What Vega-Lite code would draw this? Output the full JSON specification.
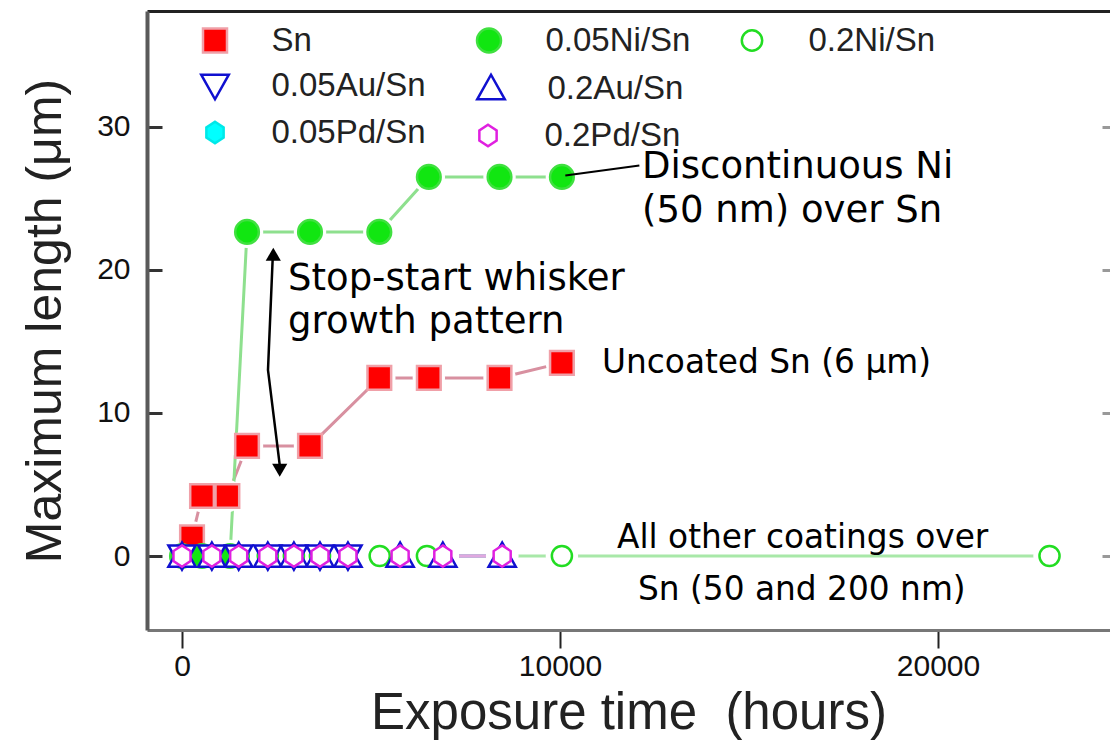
{
  "$schema": "https://vega.github.io/schema/vega-lite/v6.json",
  "width": 963,
  "height": 619,
  "autosize": {"type": "none"},
  "padding": {"left": 147, "top": 11, "right": 0, "bottom": 111},
  "background": "white",
  "config": {"view": {"stroke": null}},
  "datasets": {
    "pts": [
      {"series": "Sn", "t": 265, "len": 1.3},
      {"series": "Sn", "t": 530, "len": 4.2},
      {"series": "Sn", "t": 1200, "len": 4.2},
      {"series": "Sn", "t": 1720, "len": 7.7},
      {"series": "Sn", "t": 3386, "len": 7.7},
      {"series": "Sn", "t": 5220, "len": 12.45},
      {"series": "Sn", "t": 6530, "len": 12.45},
      {"series": "Sn", "t": 8400, "len": 12.45},
      {"series": "Sn", "t": 10050, "len": 13.5},
      {"series": "0.05Ni/Sn", "t": 0, "len": 0},
      {"series": "0.05Ni/Sn", "t": 530, "len": 0},
      {"series": "0.05Ni/Sn", "t": 1270, "len": 0},
      {"series": "0.05Ni/Sn", "t": 1720, "len": 22.66},
      {"series": "0.05Ni/Sn", "t": 3386, "len": 22.66},
      {"series": "0.05Ni/Sn", "t": 5220, "len": 22.66},
      {"series": "0.05Ni/Sn", "t": 6530, "len": 26.5},
      {"series": "0.05Ni/Sn", "t": 8400, "len": 26.5},
      {"series": "0.05Ni/Sn", "t": 10050, "len": 26.5},
      {"series": "0.2Ni/Sn", "t": 0, "len": 0},
      {"series": "0.2Ni/Sn", "t": 790, "len": 0},
      {"series": "0.2Ni/Sn", "t": 1500, "len": 0},
      {"series": "0.2Ni/Sn", "t": 2270, "len": 0},
      {"series": "0.2Ni/Sn", "t": 2960, "len": 0},
      {"series": "0.2Ni/Sn", "t": 3650, "len": 0},
      {"series": "0.2Ni/Sn", "t": 5230, "len": 0},
      {"series": "0.2Ni/Sn", "t": 6480, "len": 0},
      {"series": "0.2Ni/Sn", "t": 10050, "len": 0},
      {"series": "0.2Ni/Sn", "t": 22950, "len": 0},
      {"series": "0.05Pd/Sn", "t": 0, "len": 0},
      {"series": "0.05Pd/Sn", "t": 790, "len": 0},
      {"series": "0.05Pd/Sn", "t": 1500, "len": 0},
      {"series": "0.05Pd/Sn", "t": 2270, "len": 0},
      {"series": "0.05Pd/Sn", "t": 2960, "len": 0},
      {"series": "0.05Pd/Sn", "t": 3650, "len": 0},
      {"series": "0.05Pd/Sn", "t": 4390, "len": 0},
      {"series": "0.05Au/Sn", "t": 0, "len": 0},
      {"series": "0.05Au/Sn", "t": 790, "len": 0},
      {"series": "0.05Au/Sn", "t": 1500, "len": 0},
      {"series": "0.05Au/Sn", "t": 2270, "len": 0},
      {"series": "0.05Au/Sn", "t": 2960, "len": 0},
      {"series": "0.05Au/Sn", "t": 3650, "len": 0},
      {"series": "0.05Au/Sn", "t": 4390, "len": 0},
      {"series": "0.2Au/Sn", "t": 0, "len": 0},
      {"series": "0.2Au/Sn", "t": 790, "len": 0},
      {"series": "0.2Au/Sn", "t": 1500, "len": 0},
      {"series": "0.2Au/Sn", "t": 2270, "len": 0},
      {"series": "0.2Au/Sn", "t": 2960, "len": 0},
      {"series": "0.2Au/Sn", "t": 3650, "len": 0},
      {"series": "0.2Au/Sn", "t": 4390, "len": 0},
      {"series": "0.2Au/Sn", "t": 5770, "len": 0},
      {"series": "0.2Au/Sn", "t": 6900, "len": 0},
      {"series": "0.2Au/Sn", "t": 8470, "len": 0},
      {"series": "0.2Pd/Sn", "t": 0, "len": 0},
      {"series": "0.2Pd/Sn", "t": 790, "len": 0},
      {"series": "0.2Pd/Sn", "t": 1500, "len": 0},
      {"series": "0.2Pd/Sn", "t": 2270, "len": 0},
      {"series": "0.2Pd/Sn", "t": 2960, "len": 0},
      {"series": "0.2Pd/Sn", "t": 3650, "len": 0},
      {"series": "0.2Pd/Sn", "t": 4390, "len": 0},
      {"series": "0.2Pd/Sn", "t": 5770, "len": 0},
      {"series": "0.2Pd/Sn", "t": 6900, "len": 0},
      {"series": "0.2Pd/Sn", "t": 8470, "len": 0}
    ],
    "notes": [
      {"note": "Discontinuous Ni", "t": 12169, "len": 26.43},
      {"note": "(50 nm) over Sn", "t": 12169, "len": 23.36},
      {"note": "Stop-start whisker", "t": 2804, "len": 18.6},
      {"note": "growth pattern", "t": 2804, "len": 15.59},
      {"note": "Uncoated Sn (6 μm)", "t": 11111, "len": 12.8},
      {"note": "All other coatings over", "t": 11508, "len": 0.56},
      {"note": "Sn (50 and 200 nm)", "t": 12063, "len": -3.08}
    ],
    "leader": [
      {"t": 10140, "len": 26.6, "t2": 12100, "len2": 27.3}
    ],
    "arrow": [
      {"t": 2407, "len": 21.3, "k": 0},
      {"t": 2275, "len": 13.0, "k": 1},
      {"t": 2593, "len": 6.2, "k": 2}
    ],
    "heads": [
      {"dir": "up", "t": 2415, "len": 21.1},
      {"dir": "down", "t": 2585, "len": 6.0}
    ]
  },
  "resolve": {"axis": {"x": "independent", "y": "independent"}},
  "layer": [
    {
      "data": {"name": "pts"},
      "mark": {"type": "line", "strokeWidth": 3},
      "encoding": {
        "x": {"field": "t", "type": "quantitative",
          "scale": {"domain": [-926, 24550], "nice": false, "zero": false},
          "axis": {"orient": "bottom", "values": [0, 10000, 20000], "format": "d", "title": "Exposure time\u00a0\u00a0(hours)", "grid": false,
            "domainColor": "#777", "domainWidth": 3, "tickColor": "#222", "tickWidth": 2, "tickSize": 18,
            "labelFont": "Liberation Sans", "labelFontSize": 30, "labelColor": "#111", "labelPadding": 3,
            "titleFont": "Liberation Sans", "titleFontSize": 51, "titleFontWeight": "normal", "titleColor": "#222", "titlePadding": 7}},
        "y": {"field": "len", "type": "quantitative",
          "scale": {"domain": [-5.17, 38.1], "nice": false, "zero": false},
          "axis": {"orient": "left", "values": [0, 10, 20, 30], "title": "Maximum length (μm)", "grid": false,
            "domainColor": "#5a5a5a", "domainWidth": 4, "tickColor": "#333", "tickWidth": 3, "tickSize": -15,
            "labelFont": "Liberation Sans", "labelFontSize": 30, "labelColor": "#111", "labelPadding": 32,
            "titleFont": "Liberation Sans", "titleFontSize": 50, "titleFontWeight": "normal", "titleColor": "#222", "titlePadding": 26}},
        "color": {"field": "series", "type": "nominal",
          "scale": {"domain": ["blank", "Sn", "0.05Ni/Sn", "0.2Ni/Sn", "0.05Au/Sn", "0.2Au/Sn", "0.05Pd/Sn", "0.2Pd/Sn"],
            "range": ["#ffffff", "#d890a0", "#8ee08e", "#a8e8a8", "#8888d8", "#8888d8", "#90f0f0", "#e0a8e0"]},
          "legend": null}
      }
    },
    {
      "data": {"name": "pts"},
      "mark": {"type": "point", "shape": "circle", "filled": true, "fill": "white", "size": 1050, "opacity": 1, "strokeWidth": 0},
      "encoding": {
        "x": {"field": "t", "type": "quantitative", "axis": null},
        "y": {"field": "len", "type": "quantitative", "axis": null}
      }
    },
    {
      "data": {"name": "pts"},
      "mark": {"type": "point", "size": 560, "strokeWidth": 2.5, "opacity": 1},
      "encoding": {
        "x": {"field": "t", "type": "quantitative", "axis": null},
        "y": {"field": "len", "type": "quantitative", "axis": null},
        "fill": {"field": "series", "type": "nominal",
          "scale": {"domain": ["Sn", "0.05Ni/Sn", "0.2Ni/Sn", "0.05Au/Sn", "0.2Au/Sn", "blank", "0.05Pd/Sn", "0.2Pd/Sn"],
            "range": ["#ff0000", "#11e611", "#ffffff", "#ffffff", "#ffffff", "transparent", "#00ffff", "#ffffff"]},
          "legend": {"orient": "none", "legendX": 51.5, "legendY": 13, "padding": 0, "columns": 3, "direction": "horizontal", "gridAlign": "none",
            "columnPadding": 45, "rowPadding": 11, "symbolSize": 576, "symbolOffset": 0, "labelOffset": 40, "symbolStrokeWidth": 2.5, "symbolOpacity": 1,
            "labelFont": "Liberation Sans", "labelFontSize": 33, "labelColor": "#222", "title": null,
            "labelExpr": "datum.label === 'blank' ? '' : datum.label"}},
        "stroke": {"field": "series", "type": "nominal",
          "scale": {"domain": ["Sn", "0.05Ni/Sn", "0.2Ni/Sn", "0.05Au/Sn", "0.2Au/Sn", "blank", "0.05Pd/Sn", "0.2Pd/Sn"],
            "range": ["#f0a0a8", "#40e040", "#22dd22", "#1010d0", "#1010d0", "transparent", "#00e8e8", "#e020e0"]},
          "legend": {"orient": "none", "legendX": 51.5, "legendY": 13, "padding": 0, "columns": 3, "direction": "horizontal", "gridAlign": "none",
            "columnPadding": 45, "rowPadding": 11, "symbolSize": 576, "symbolOffset": 0, "labelOffset": 40, "symbolStrokeWidth": 2.5, "symbolOpacity": 1,
            "labelFont": "Liberation Sans", "labelFontSize": 33, "labelColor": "#222", "title": null,
            "labelExpr": "datum.label === 'blank' ? '' : datum.label"}},
        "shape": {"field": "series", "type": "nominal",
          "scale": {"domain": ["Sn", "0.05Ni/Sn", "0.2Ni/Sn", "0.05Au/Sn", "0.2Au/Sn", "blank", "0.05Pd/Sn", "0.2Pd/Sn"],
            "range": ["M-1,-1H1V1H-1Z", "M1,0A1,1 0 1,1 -1,0A1,1 0 1,1 1,0Z", "M0.85,0A0.85,0.85 0 1,1 -0.85,0A0.85,0.85 0 1,1 0.85,0Z", "M-1.15,-0.9L1.15,-0.9L0,1.15Z", "M-1.15,0.9L1.15,0.9L0,-1.15Z", "M0,0", "M0,-0.9L0.72,-0.42L0.72,0.42L0,0.9L-0.72,0.42L-0.72,-0.42Z", "M0,-0.9L0.72,-0.42L0.72,0.42L0,0.9L-0.72,0.42L-0.72,-0.42Z"]},
          "legend": {"orient": "none", "legendX": 51.5, "legendY": 13, "padding": 0, "columns": 3, "direction": "horizontal", "gridAlign": "none",
            "columnPadding": 45, "rowPadding": 11, "symbolSize": 576, "symbolOffset": 0, "labelOffset": 40, "symbolStrokeWidth": 2.5, "symbolOpacity": 1,
            "labelFont": "Liberation Sans", "labelFontSize": 33, "labelColor": "#222", "title": null,
            "labelExpr": "datum.label === 'blank' ? '' : datum.label"}}
      }
    },
    {
      "data": {"name": "notes"},
      "transform": [{"filter": "indexof(['Discontinuous Ni', '(50 nm) over Sn', 'Stop-start whisker', 'growth pattern'], datum.note) >= 0"}],
      "mark": {"type": "text", "font": "DejaVu Sans", "fontSize": 37, "align": "left", "baseline": "alphabetic", "color": "#000"},
      "encoding": {
        "x": {"field": "t", "type": "quantitative",
          "axis": {"orient": "top", "ticks": false, "labels": false, "title": null, "grid": false, "domainColor": "#222", "domainWidth": 3}},
        "y": {"field": "len", "type": "quantitative",
          "axis": {"orient": "right", "values": [0, 10, 20, 30], "labels": false, "domain": false, "title": null, "grid": false, "tickSize": -8, "tickColor": "#999", "tickWidth": 3}},
        "text": {"field": "note"}
      }
    },
    {
      "data": {"name": "notes"},
      "transform": [{"filter": "indexof(['Discontinuous Ni', '(50 nm) over Sn', 'Stop-start whisker', 'growth pattern'], datum.note) < 0"}],
      "mark": {"type": "text", "font": "DejaVu Sans", "fontSize": 32.8, "align": "left", "baseline": "alphabetic", "color": "#000"},
      "encoding": {
        "x": {"field": "t", "type": "quantitative", "axis": null},
        "y": {"field": "len", "type": "quantitative", "axis": null},
        "text": {"field": "note"}
      }
    },
    {
      "data": {"name": "leader"},
      "mark": {"type": "rule", "color": "#000", "strokeWidth": 2},
      "encoding": {
        "x": {"field": "t", "type": "quantitative", "axis": null},
        "y": {"field": "len", "type": "quantitative", "axis": null},
        "x2": {"field": "t2"},
        "y2": {"field": "len2"}
      }
    },
    {
      "data": {"name": "arrow"},
      "mark": {"type": "line", "color": "#000", "strokeWidth": 2.5},
      "encoding": {
        "x": {"field": "t", "type": "quantitative", "axis": null},
        "y": {"field": "len", "type": "quantitative", "axis": null},
        "order": {"field": "k", "type": "quantitative"}
      }
    },
    {
      "data": {"name": "heads"},
      "transform": [{"filter": "datum.dir === 'up'"}],
      "mark": {"type": "point", "shape": "triangle-up", "filled": true, "color": "#000", "size": 230, "opacity": 1},
      "encoding": {
        "x": {"field": "t", "type": "quantitative", "axis": null},
        "y": {"field": "len", "type": "quantitative", "axis": null}
      }
    },
    {
      "data": {"name": "heads"},
      "transform": [{"filter": "datum.dir === 'down'"}],
      "mark": {"type": "point", "shape": "triangle-down", "filled": true, "color": "#000", "size": 230, "opacity": 1},
      "encoding": {
        "x": {"field": "t", "type": "quantitative", "axis": null},
        "y": {"field": "len", "type": "quantitative", "axis": null}
      }
    }
  ]
}
